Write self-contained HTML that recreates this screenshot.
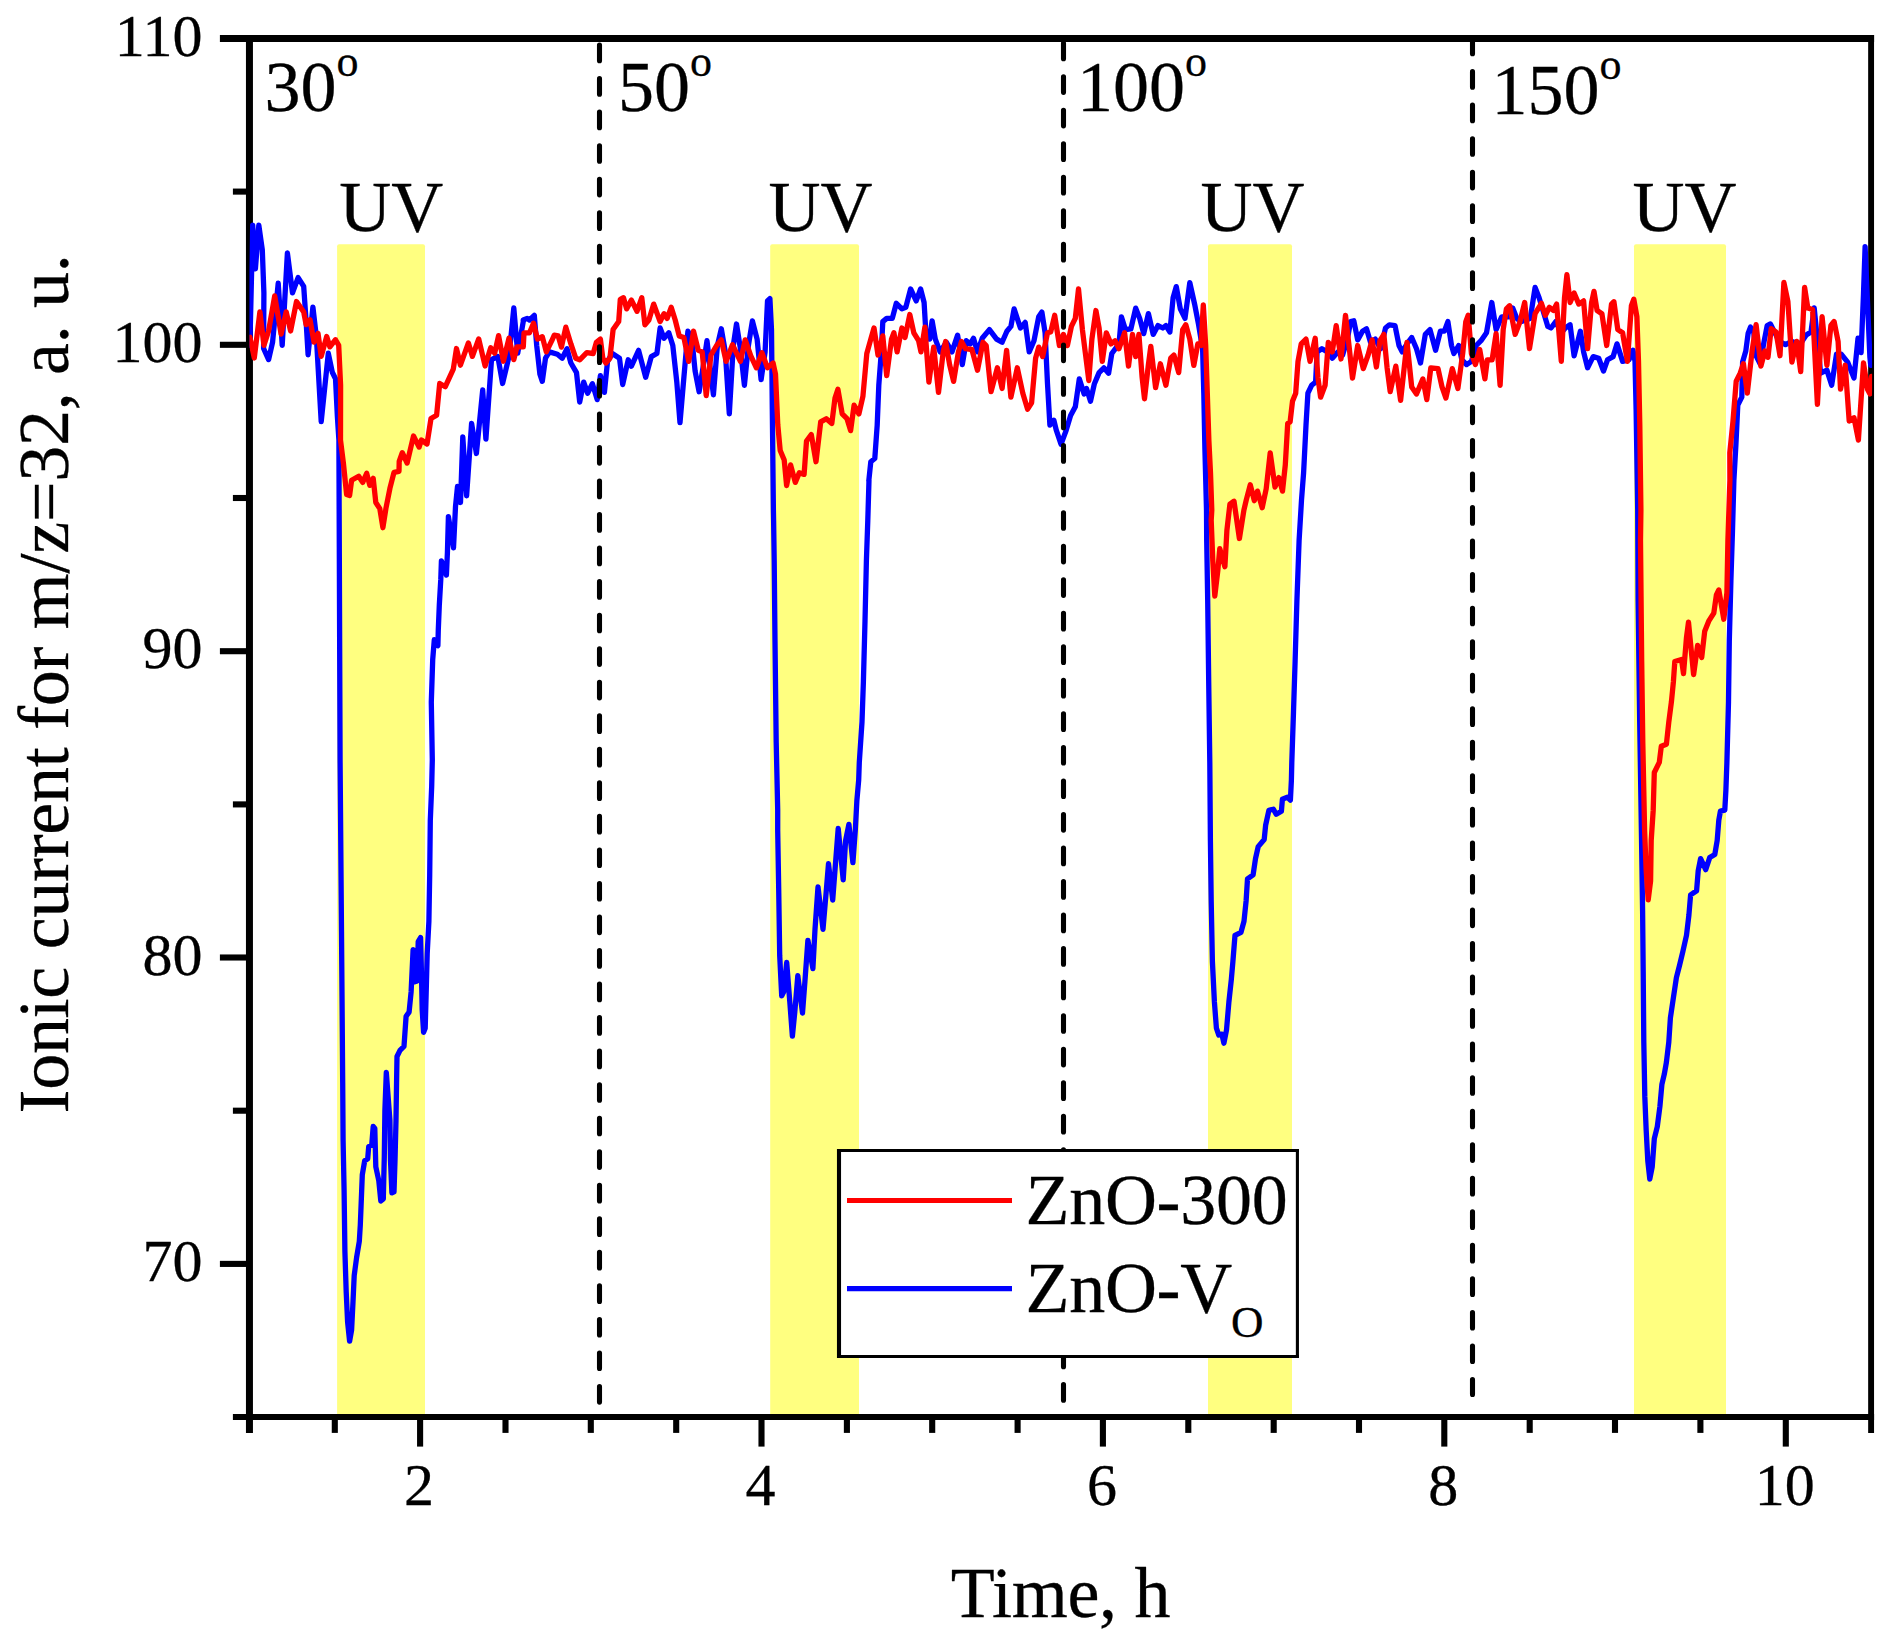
<!DOCTYPE html>
<html><head><meta charset="utf-8"><title>Ionic current</title>
<style>
html,body{margin:0;padding:0;background:#fff;}
svg{display:block;}
text{font-family:"Liberation Serif",serif;fill:#000;stroke:#000;stroke-width:0.3px;}
.t60{font-size:60px;}
.t72{font-size:72px;}
.sup{font-size:44px;}
.sub{font-size:45px;letter-spacing:0;}
.ls{letter-spacing:-0.3px;}
</style></head><body>
<svg width="1885" height="1636" viewBox="0 0 1885 1636">
<rect width="1885" height="1636" fill="#fff"/>
<defs><clipPath id="cp"><rect x="249.45" y="38.45" width="1622.65" height="1378.65"/></clipPath></defs>

<rect x="337.1" y="244.2" width="87.9" height="1172.9" rx="2" fill="#ffff80"/>
<rect x="770.2" y="244.2" width="88.8" height="1172.9" rx="2" fill="#ffff80"/>
<rect x="1208.0" y="244.2" width="84.0" height="1172.9" rx="2" fill="#ffff80"/>
<rect x="1634.0" y="244.2" width="92.0" height="1172.9" rx="2" fill="#ffff80"/>
<g stroke="#000" fill="none" stroke-linecap="butt">
<line x1="219.9" y1="38.45" x2="1874.1" y2="38.45" stroke-width="7"/>
<line x1="249.45" y1="34.95" x2="249.45" y2="1433" stroke-width="7"/>
<line x1="232.9" y1="1417.1" x2="1874.1" y2="1417.1" stroke-width="6"/>
<line x1="1871.1" y1="34.95" x2="1871.1" y2="1432.9" stroke-width="5.9"/>
<g stroke-width="6.1">
<line x1="219.9" y1="344.8" x2="249.45" y2="344.8"/>
<line x1="219.9" y1="651.2" x2="249.45" y2="651.2"/>
<line x1="219.9" y1="957.5" x2="249.45" y2="957.5"/>
<line x1="219.9" y1="1263.9" x2="249.45" y2="1263.9"/>
<line x1="232.9" y1="191.6" x2="249.45" y2="191.6"/>
<line x1="232.9" y1="498.0" x2="249.45" y2="498.0"/>
<line x1="232.9" y1="804.4" x2="249.45" y2="804.4"/>
<line x1="232.9" y1="1110.7" x2="249.45" y2="1110.7"/>
<line x1="420.1" y1="1417.1" x2="420.1" y2="1446.6"/>
<line x1="761.5" y1="1417.1" x2="761.5" y2="1446.6"/>
<line x1="1102.9" y1="1417.1" x2="1102.9" y2="1446.6"/>
<line x1="1444.3" y1="1417.1" x2="1444.3" y2="1446.6"/>
<line x1="1785.8" y1="1417.1" x2="1785.8" y2="1446.6"/>
<line x1="334.8" y1="1417.1" x2="334.8" y2="1432.9"/>
<line x1="505.5" y1="1417.1" x2="505.5" y2="1432.9"/>
<line x1="590.8" y1="1417.1" x2="590.8" y2="1432.9"/>
<line x1="676.2" y1="1417.1" x2="676.2" y2="1432.9"/>
<line x1="846.9" y1="1417.1" x2="846.9" y2="1432.9"/>
<line x1="932.2" y1="1417.1" x2="932.2" y2="1432.9"/>
<line x1="1017.6" y1="1417.1" x2="1017.6" y2="1432.9"/>
<line x1="1188.3" y1="1417.1" x2="1188.3" y2="1432.9"/>
<line x1="1273.7" y1="1417.1" x2="1273.7" y2="1432.9"/>
<line x1="1359.0" y1="1417.1" x2="1359.0" y2="1432.9"/>
<line x1="1529.7" y1="1417.1" x2="1529.7" y2="1432.9"/>
<line x1="1615.0" y1="1417.1" x2="1615.0" y2="1432.9"/>
<line x1="1700.4" y1="1417.1" x2="1700.4" y2="1432.9"/>
</g></g>
<g clip-path="url(#cp)" fill="none" stroke-width="5.3" stroke-linejoin="round" stroke-linecap="round">
<path d="M249.9 345.3 L252.7 225.1 L255.4 268.9 L258.8 225.1 L262.3 249.8 L263.9 292.8 L263.6 348.5 L268.6 359.6 L272.6 342.1 L278.2 283.2 L282.2 345.3 L287.4 253.0 L292.5 292.8 L298.1 277.6 L303.7 286.4 L306.1 321.4 L308.1 354.8 L312.9 307.1 L316.4 337.3 L321.2 421.7 L328.3 353.2 L332.3 372.3 L335.5 378.7 L337.4 416.9 L338.9 440.0 L340.1 762.7 L341.5 931.4 L342.7 1082.7 L343.1 1140.5 L344.1 1190.9 L344.9 1251.4 L346.2 1291.8 L347.6 1322.0 L349.6 1341.2 L351.6 1330.1 L353.0 1301.9 L354.2 1275.6 L356.6 1257.5 L359.3 1241.4 L360.3 1225.2 L361.1 1205.1 L362.3 1174.8 L364.7 1160.7 L367.7 1158.7 L368.7 1146.6 L371.8 1144.5 L373.2 1126.4 L374.8 1128.4 L375.8 1166.7 L378.8 1180.8 L380.8 1201.0 L383.3 1199.0 L384.3 1156.6 L384.9 1110.3 L386.3 1072.5 L389.9 1120.3 L390.5 1160.7 L391.9 1192.9 L394.0 1191.9 L395.0 1160.7 L396.0 1120.3 L396.6 1080.0 L397.0 1056.5 L400.0 1050.4 L404.0 1046.4 L406.1 1016.2 L409.1 1012.1 L411.1 991.9 L413.1 949.6 L414.1 981.9 L417.2 980.9 L418.2 941.5 L420.6 937.5 L421.2 961.7 L422.2 1010.1 L423.6 1032.3 L425.2 1028.3 L426.2 991.9 L427.2 953.6 L428.9 921.4 L429.7 875.0 L430.3 820.5 L431.7 786.2 L432.3 760.0 L431.3 702.2 L432.7 659.8 L434.3 639.7 L437.9 645.7 L438.3 629.6 L439.3 605.4 L440.8 579.2 L441.4 561.0 L446.4 575.1 L447.4 552.9 L448.4 516.6 L453.5 547.9 L455.5 506.6 L457.5 486.4 L460.5 502.5 L462.8 436.8 L466.6 495.9 L471.6 423.3 L476.4 453.5 L482.7 389.9 L485.9 439.2 L491.5 359.6 L497.8 356.4 L502.6 383.5 L509.0 356.4 L513.8 307.9 L517.7 353.2 L523.3 321.4 L523.2 320.0 L527.2 318.4 L529.5 320.0 L534.3 315.3 L536.7 345.5 L539.9 374.1 L542.3 381.3 L545.5 358.2 L549.4 351.9 L557.4 354.2 L562.2 358.2 L567.0 348.7 L570.9 363.0 L576.5 372.6 L579.7 402.0 L583.7 382.1 L587.6 393.2 L592.4 383.7 L597.2 399.6 L600.4 375.7 L604.4 392.4 L607.5 361.4 L612.3 353.5 L619.5 358.2 L622.7 384.5 L628.2 359.8 L631.4 366.2 L638.6 350.3 L645.7 377.3 L651.3 356.6 L656.9 353.5 L660.1 328.0 L664.0 338.3 L668.8 332.8 L672.8 345.5 L676.8 382.1 L680.0 422.7 L683.9 377.3 L687.9 331.2 L691.9 339.1 L695.1 371.0 L699.1 391.7 L703.0 367.8 L707.0 340.7 L709.4 361.4 L713.4 394.8 L717.4 345.5 L721.3 328.8 L725.3 351.9 L729.3 413.9 L733.3 345.5 L736.5 324.0 L740.4 348.7 L744.4 385.3 L748.4 345.5 L752.4 320.8 L757.1 339.1 L761.1 379.7 L765.1 351.9 L767.5 300.9 L769.9 298.5 L771.5 329.6 L772.3 409.2 L773.4 510.1 L773.6 520.3 L774.2 560.7 L775.0 641.4 L776.2 742.2 L777.7 810.0 L777.7 830.4 L778.7 888.9 L779.7 955.5 L781.7 995.8 L783.7 991.8 L786.7 962.5 L789.8 1001.9 L792.4 1036.2 L794.8 1011.9 L797.8 975.6 L802.5 1013.0 L804.9 981.7 L807.9 940.3 L812.9 968.6 L815.0 929.3 L818.0 886.9 L823.0 929.3 L826.1 892.9 L828.5 863.7 L832.7 900.0 L835.1 868.7 L838.2 828.4 L843.2 879.8 L845.6 840.5 L848.9 824.4 L852.9 862.7 L855.3 830.4 L856.9 800.2 L858.7 780.0 L859.3 762.4 L862.0 722.0 L863.4 681.7 L865.0 621.2 L866.4 560.7 L867.8 520.3 L869.0 480.0 L868.8 480.8 L870.8 461.7 L874.8 458.5 L877.2 425.1 L878.8 385.3 L881.2 353.5 L882.8 321.6 L886.7 318.4 L892.3 318.4 L896.3 303.3 L901.9 308.9 L905.8 307.3 L910.6 289.0 L916.2 300.9 L920.6 289.0 L924.1 302.5 L925.7 329.6 L929.7 339.1 L932.1 320.8 L935.3 339.1 L940.1 351.9 L946.4 342.3 L952.0 351.9 L957.6 335.2 L962.3 364.6 L966.3 340.7 L970.3 343.9 L973.5 338.3 L977.5 351.9 L982.2 338.3 L989.4 329.6 L996.6 339.1 L1002.1 342.3 L1006.9 331.2 L1010.9 326.4 L1014.1 308.9 L1020.4 328.0 L1025.2 322.4 L1029.2 351.9 L1034.0 340.7 L1038.7 316.8 L1041.9 312.1 L1045.1 332.8 L1047.5 383.7 L1049.9 425.1 L1053.9 420.3 L1056.2 429.9 L1061.0 444.2 L1065.8 431.4 L1070.6 415.5 L1075.3 406.8 L1079.3 378.9 L1084.1 394.0 L1086.5 388.5 L1090.5 401.2 L1094.4 383.7 L1099.1 372.6 L1103.9 367.8 L1108.6 373.3 L1111.8 353.5 L1119.0 343.9 L1121.4 316.8 L1125.4 329.6 L1130.9 328.8 L1135.7 308.1 L1139.7 318.4 L1143.7 333.6 L1148.4 313.7 L1153.2 334.4 L1158.0 325.6 L1162.8 328.0 L1165.9 325.6 L1169.9 332.0 L1173.1 297.7 L1176.3 286.6 L1180.3 308.9 L1185.0 318.4 L1189.8 282.6 L1194.6 304.1 L1198.6 324.8 L1202.6 348.7 L1203.8 393.2 L1204.9 448.9 L1206.5 510.1 L1206.7 540.5 L1207.7 601.0 L1208.7 681.7 L1209.8 762.4 L1210.4 840.5 L1211.2 901.0 L1212.4 961.5 L1214.4 1001.9 L1216.4 1028.1 L1218.8 1035.1 L1221.9 1034.1 L1223.9 1043.2 L1226.5 1030.1 L1228.9 1001.9 L1231.3 979.7 L1232.9 961.5 L1235.0 935.3 L1241.0 932.3 L1244.0 921.2 L1246.1 901.0 L1247.5 878.8 L1253.1 874.8 L1255.5 858.7 L1258.2 846.6 L1264.2 839.5 L1265.6 825.4 L1268.9 810.3 L1273.3 809.2 L1276.3 814.3 L1281.4 811.3 L1282.4 799.2 L1287.4 797.1 L1290.4 800.2 L1291.4 780.0 L1291.8 762.4 L1293.5 711.9 L1295.1 661.5 L1296.9 601.0 L1299.1 540.5 L1301.5 500.2 L1303.6 472.8 L1306.0 425.1 L1307.9 393.2 L1311.6 385.3 L1315.6 382.1 L1317.1 351.9 L1321.9 348.7 L1327.5 351.9 L1332.3 358.2 L1337.8 351.9 L1342.6 355.0 L1347.4 339.1 L1350.6 321.6 L1353.8 320.8 L1357.7 339.9 L1362.5 331.2 L1366.5 328.8 L1370.5 342.3 L1375.2 339.1 L1380.7 348.7 L1385.5 328.0 L1389.4 324.8 L1395.0 325.6 L1399.0 345.5 L1402.2 351.9 L1407.0 343.9 L1411.7 337.5 L1416.5 348.7 L1420.5 363.0 L1425.3 334.4 L1430.0 329.6 L1435.6 350.3 L1440.4 331.2 L1444.4 331.2 L1447.9 321.6 L1451.5 345.5 L1453.9 353.5 L1458.7 345.5 L1461.9 359.8 L1466.6 364.6 L1471.4 361.4 L1476.2 345.5 L1481.0 340.7 L1486.5 332.8 L1491.8 302.5 L1496.1 329.6 L1501.7 316.8 L1508.8 316.8 L1512.8 308.1 L1516.8 318.4 L1520.8 321.6 L1526.3 320.0 L1530.3 318.4 L1535.1 287.4 L1539.1 297.7 L1543.0 310.5 L1547.8 326.4 L1551.0 328.0 L1555.8 321.6 L1561.3 332.8 L1565.3 328.0 L1570.1 324.8 L1574.1 355.8 L1580.4 331.2 L1583.6 351.9 L1587.6 367.8 L1593.2 356.6 L1598.7 358.2 L1603.5 371.0 L1607.5 359.8 L1613.1 356.6 L1617.0 343.9 L1622.6 361.4 L1629.0 359.8 L1633.0 350.3 L1635.0 361.4 L1636.1 409.2 L1637.7 510.1 L1638.1 601.0 L1639.7 722.0 L1641.7 850.5 L1642.6 911.0 L1643.2 971.5 L1643.8 1042.1 L1644.8 1096.4 L1646.2 1130.7 L1647.8 1160.9 L1649.8 1179.1 L1652.2 1167.0 L1654.3 1138.7 L1657.3 1126.6 L1659.9 1106.5 L1661.9 1084.3 L1664.3 1074.2 L1666.4 1062.3 L1668.8 1042.1 L1670.4 1017.9 L1673.4 997.7 L1676.4 977.6 L1679.5 965.5 L1682.9 951.4 L1686.5 935.2 L1688.9 915.1 L1690.6 894.9 L1696.6 890.8 L1698.2 870.7 L1700.6 858.6 L1705.7 869.7 L1709.7 857.6 L1714.8 854.5 L1717.2 840.4 L1718.8 820.3 L1720.4 811.2 L1724.8 810.2 L1725.9 790.0 L1726.9 762.4 L1728.5 701.9 L1729.3 641.4 L1730.9 580.8 L1732.5 530.4 L1733.9 480.0 L1735.9 444.9 L1737.8 405.1 L1741.8 397.1 L1742.6 362.1 L1745.8 351.0 L1748.1 333.5 L1750.5 327.1 L1753.7 331.9 L1756.1 355.7 L1760.1 363.7 L1764.1 341.4 L1767.2 325.5 L1770.4 323.9 L1774.4 331.9 L1779.2 341.4 L1785.5 344.6 L1791.9 341.4 L1799.9 344.6 L1806.2 335.0 L1811.0 331.9 L1814.2 308.0 L1816.6 331.9 L1820.6 373.2 L1826.9 370.1 L1831.7 385.2 L1836.5 354.1 L1841.2 354.1 L1847.6 362.1 L1854.0 378.0 L1858.0 338.2 L1861.1 352.6 L1863.5 293.7 L1865.1 246.7 L1867.5 301.6 L1869.9 357.3 L1870.7 365.3" stroke="#0000ff"/>
<path d="M249.9 337.3 L254.3 358.0 L259.9 311.9 L263.9 345.3 L268.6 331.0 L274.7 295.9 L281.1 334.1 L286.2 311.9 L290.6 331.0 L296.5 301.5 L303.7 311.9 L306.1 324.6 L310.0 319.8 L314.0 342.1 L318.0 333.3 L321.2 356.4 L326.7 336.5 L329.9 346.9 L335.5 339.7 L338.7 345.3 L340.6 385.1 L340.5 440.0 L343.5 464.2 L346.6 494.5 L349.6 495.5 L351.6 480.3 L358.7 476.3 L362.7 482.4 L366.7 473.3 L369.8 485.4 L373.2 478.3 L375.8 502.5 L379.8 508.6 L382.9 527.7 L385.9 508.6 L389.9 488.4 L394.0 472.3 L399.0 471.3 L399.2 461.5 L402.3 452.7 L407.1 463.1 L413.5 436.0 L419.1 447.1 L421.4 440.0 L427.0 444.0 L431.0 418.5 L436.6 415.3 L439.7 383.5 L445.3 386.7 L453.3 369.2 L456.5 348.5 L460.4 365.2 L468.4 342.9 L472.4 356.4 L478.7 338.9 L485.1 366.0 L490.7 347.7 L494.7 353.2 L498.6 335.7 L503.4 361.2 L509.0 338.1 L513.8 359.6 L516.9 346.9 L523.3 346.9 L524.0 332.8 L529.5 332.8 L533.5 323.2 L537.5 339.1 L542.3 336.7 L546.3 351.9 L551.8 340.7 L554.2 335.2 L558.2 335.9 L561.4 347.1 L565.8 327.2 L570.9 343.9 L575.7 358.2 L579.7 359.8 L586.8 352.7 L593.2 353.5 L596.4 342.3 L600.4 339.1 L602.8 358.2 L605.9 363.0 L609.9 358.2 L613.1 329.6 L618.7 321.6 L620.3 299.3 L623.5 297.7 L626.6 308.9 L631.4 300.1 L637.0 311.3 L641.8 297.7 L644.9 324.8 L648.9 320.0 L653.7 304.1 L660.1 321.6 L664.0 313.7 L667.2 318.4 L671.2 307.3 L675.2 320.0 L679.2 335.9 L683.9 337.5 L688.7 361.4 L693.5 331.2 L698.3 350.3 L702.2 351.9 L706.2 395.6 L711.0 355.0 L716.6 345.5 L721.3 339.9 L726.1 361.4 L732.5 344.7 L740.4 361.4 L745.2 339.9 L750.8 355.8 L756.4 367.8 L761.9 352.7 L767.5 367.8 L773.1 363.0 L775.5 374.1 L777.8 425.1 L780.2 450.5 L784.2 460.1 L786.6 485.6 L790.6 464.9 L795.3 482.4 L799.3 472.8 L804.1 474.4 L806.5 441.0 L811.3 434.6 L816.0 461.7 L820.7 421.9 L826.3 418.7 L831.8 423.5 L835.0 398.0 L837.9 389.3 L842.2 413.9 L847.0 418.7 L850.6 430.6 L854.1 405.2 L858.9 413.9 L862.9 396.4 L866.8 353.5 L870.8 339.1 L874.0 328.0 L878.0 355.0 L882.8 335.9 L886.7 375.7 L891.5 339.1 L893.9 332.8 L897.1 351.9 L901.9 328.0 L905.0 337.5 L909.8 314.5 L913.8 332.8 L918.6 340.7 L921.0 351.9 L924.9 327.2 L928.9 382.1 L933.7 347.1 L938.5 392.4 L943.2 351.9 L945.6 341.5 L949.6 364.6 L953.6 381.3 L958.4 351.9 L961.5 341.5 L965.5 348.7 L971.9 349.5 L977.5 370.2 L983.0 342.3 L986.2 345.5 L991.0 391.7 L997.4 367.8 L1002.1 388.5 L1006.6 350.3 L1010.9 397.2 L1017.3 367.8 L1022.8 393.2 L1027.6 409.2 L1031.6 402.8 L1035.6 358.2 L1038.7 347.1 L1042.7 356.6 L1047.5 332.8 L1050.7 332.0 L1054.7 315.3 L1059.4 345.5 L1063.4 334.4 L1067.4 345.5 L1071.4 326.4 L1075.3 318.4 L1078.5 289.0 L1082.4 329.6 L1085.6 355.0 L1088.8 380.5 L1091.9 339.1 L1095.9 310.5 L1099.1 328.0 L1102.3 361.4 L1106.3 332.8 L1111.0 343.9 L1115.0 340.7 L1119.0 348.7 L1124.6 332.8 L1128.5 366.2 L1132.5 334.4 L1135.7 356.6 L1138.9 334.4 L1142.1 377.3 L1144.5 398.8 L1148.4 364.6 L1150.8 346.3 L1155.6 387.7 L1160.4 363.8 L1165.9 385.3 L1170.7 358.2 L1173.9 355.0 L1178.7 372.6 L1182.7 329.6 L1185.8 324.8 L1189.8 339.1 L1193.8 365.4 L1197.8 343.9 L1201.0 345.5 L1203.3 304.9 L1205.7 345.5 L1207.3 393.2 L1208.9 441.0 L1210.5 472.8 L1211.8 510.1 L1211.2 520.3 L1212.8 560.7 L1214.8 596.0 L1217.8 570.8 L1219.8 548.6 L1224.9 566.7 L1226.9 530.4 L1229.9 504.2 L1234.0 501.2 L1239.4 538.5 L1243.9 510.1 L1246.3 499.9 L1250.3 484.8 L1254.3 500.7 L1257.5 491.1 L1262.2 507.8 L1266.2 488.7 L1270.2 452.9 L1275.0 487.1 L1278.9 477.6 L1282.5 491.1 L1285.3 464.9 L1287.7 423.5 L1290.1 421.9 L1292.5 401.2 L1295.7 393.2 L1298.0 361.4 L1301.2 343.9 L1306.0 339.1 L1310.0 361.4 L1315.2 338.3 L1317.9 377.3 L1320.6 397.2 L1325.1 385.3 L1328.3 342.3 L1332.3 351.9 L1336.2 325.6 L1341.0 359.0 L1345.5 315.3 L1349.0 345.5 L1352.5 378.1 L1357.7 345.5 L1363.3 368.6 L1368.1 355.0 L1372.1 339.9 L1376.4 367.0 L1379.9 340.7 L1383.9 334.4 L1387.1 367.8 L1390.2 391.7 L1395.8 366.2 L1400.6 400.4 L1407.0 342.3 L1411.7 386.9 L1416.5 394.0 L1422.9 378.9 L1426.8 399.6 L1430.8 367.8 L1438.0 368.6 L1442.0 386.9 L1445.9 398.0 L1452.3 368.6 L1457.9 388.5 L1462.7 353.5 L1465.8 321.6 L1468.2 315.3 L1471.4 353.5 L1475.4 364.6 L1479.7 349.5 L1484.9 378.9 L1487.3 359.8 L1492.1 359.8 L1496.1 333.6 L1500.1 385.3 L1503.2 329.6 L1506.4 308.9 L1509.6 305.7 L1515.2 334.4 L1520.0 321.6 L1524.7 302.5 L1529.5 348.7 L1535.1 313.7 L1541.4 303.3 L1545.4 315.3 L1549.4 307.3 L1553.4 310.5 L1556.6 304.1 L1561.3 361.4 L1564.5 297.7 L1566.9 274.7 L1570.1 302.5 L1574.1 293.0 L1578.8 304.1 L1583.6 300.9 L1587.6 348.7 L1591.6 302.5 L1594.0 291.4 L1597.1 310.5 L1601.9 313.7 L1606.7 345.5 L1611.5 304.1 L1613.9 301.7 L1617.8 329.6 L1622.6 332.8 L1627.4 361.4 L1631.4 305.7 L1633.8 299.3 L1636.9 316.8 L1638.5 361.4 L1639.8 425.1 L1640.9 510.1 L1640.5 540.5 L1641.7 661.5 L1642.8 742.2 L1644.6 830.3 L1646.2 870.7 L1648.2 899.9 L1650.6 880.8 L1651.2 840.4 L1653.2 810.2 L1654.3 772.5 L1659.3 762.4 L1661.3 746.2 L1666.4 744.2 L1668.8 722.0 L1671.4 701.9 L1673.4 681.7 L1674.8 661.5 L1681.5 659.5 L1683.5 673.6 L1686.5 637.3 L1688.5 622.2 L1693.6 674.6 L1697.6 645.4 L1701.7 657.5 L1704.7 631.3 L1708.7 621.2 L1713.8 613.1 L1716.4 595.0 L1718.8 589.9 L1723.8 619.2 L1726.9 592.9 L1727.9 540.5 L1729.9 480.0 L1729.8 452.8 L1733.0 421.0 L1736.2 381.2 L1740.2 373.2 L1743.4 363.7 L1747.3 393.1 L1752.1 351.0 L1756.1 324.7 L1760.9 366.1 L1764.9 351.0 L1768.0 357.3 L1771.2 328.7 L1776.0 331.9 L1780.0 355.7 L1783.9 282.5 L1787.9 301.6 L1791.9 362.1 L1796.7 341.4 L1800.7 371.7 L1804.6 287.3 L1807.8 308.0 L1812.6 309.6 L1817.4 404.3 L1822.1 316.7 L1826.9 365.3 L1830.9 325.5 L1834.1 321.5 L1838.1 341.4 L1840.5 389.2 L1845.2 365.3 L1849.2 421.0 L1854.0 417.8 L1858.4 440.1 L1863.5 362.9 L1867.5 389.2 L1869.9 393.9 L1871.5 376.4" stroke="#ff0000"/>
</g>
<line x1="599.5" y1="45.1" x2="599.5" y2="1417.1" stroke="#000" stroke-width="5.1" stroke-linecap="round" stroke-dasharray="15.6 17.935"/>
<line x1="1063.5" y1="43.2" x2="1063.5" y2="1417.1" stroke="#000" stroke-width="5.1" stroke-linecap="round" stroke-dasharray="15.6 17.935"/>
<line x1="1472.5" y1="38.1" x2="1472.5" y2="1394.4" stroke="#000" stroke-width="5.1" stroke-linecap="round" stroke-dasharray="15.6 17.935"/>
<text class="t60" x="202.5" y="55.5" text-anchor="end">110</text>
<text class="t60" x="202.5" y="361.8" text-anchor="end">100</text>
<text class="t60" x="202.5" y="668.2" text-anchor="end">90</text>
<text class="t60" x="202.5" y="974.5" text-anchor="end">80</text>
<text class="t60" x="202.5" y="1280.9" text-anchor="end">70</text>
<text class="t60" x="419.1" y="1505.3" text-anchor="middle">2</text>
<text class="t60" x="760.5" y="1505.3" text-anchor="middle">4</text>
<text class="t60" x="1101.9" y="1505.3" text-anchor="middle">6</text>
<text class="t60" x="1443.3" y="1505.3" text-anchor="middle">8</text>
<text class="t60" x="1784.8" y="1505.3" text-anchor="middle">10</text>
<text class="t72 ls" x="1060.5" y="1616.5" text-anchor="middle">Time, h</text>
<text class="t72 ls" transform="translate(68,1113.5) rotate(-90)">Ionic current for m/z=32, a. u.</text>
<text class="t72" x="264.5" y="110.5">30<tspan class="sup" dy="-35">o</tspan></text>
<text class="t72" x="618" y="110.5">50<tspan class="sup" dy="-35">o</tspan></text>
<text class="t72" x="1077" y="110.5">100<tspan class="sup" dy="-35">o</tspan></text>
<text class="t72" x="1491.5" y="114">150<tspan class="sup" dy="-35">o</tspan></text>
<text class="t72" x="391.3" y="231" text-anchor="middle">UV</text>
<text class="t72" x="820.4" y="231" text-anchor="middle">UV</text>
<text class="t72" x="1252.5" y="231" text-anchor="middle">UV</text>
<text class="t72" x="1684.5" y="231" text-anchor="middle">UV</text>
<rect x="839" y="1150.5" width="458.4" height="205.9" fill="#fff"/>
<g stroke="#000" stroke-linecap="butt"><line x1="839" y1="1149" x2="839" y2="1357.9" stroke-width="4.1"/><line x1="1297.4" y1="1149" x2="1297.4" y2="1357.9" stroke-width="3.1"/><line x1="837" y1="1150.5" x2="1299" y2="1150.5" stroke-width="3"/><line x1="837" y1="1356.4" x2="1299" y2="1356.4" stroke-width="3"/></g>
<line x1="847" y1="1200.5" x2="1012" y2="1200.5" stroke="#ff0000" stroke-width="5.2"/>
<line x1="847" y1="1288.7" x2="1012" y2="1288.7" stroke="#0000ff" stroke-width="5.2"/>
<text class="t72 ls" x="1025.5" y="1224.2">ZnO-300</text>
<text class="t72 ls" x="1025.5" y="1312.2">ZnO-V<tspan class="sub" dx="-1" dy="25.2">O</tspan></text>
</svg></body></html>
